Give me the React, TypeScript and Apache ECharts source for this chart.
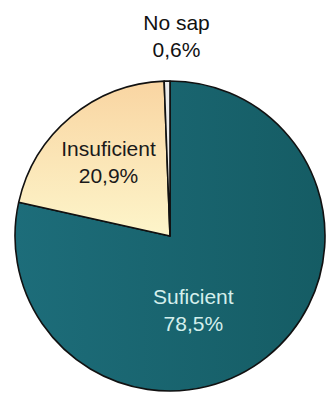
import React, { useEffect, useRef } from "react";
import * as echarts from "echarts";

const categories = ["Suficient", "Insuficient", "No sap"];
const values = [78.5, 20.9, 0.6];
const valueLabels = ["78,5%", "20,9%", "0,6%"];

export default function App() {
  const ref = useRef<HTMLDivElement>(null);
  useEffect(() => {
    if (!ref.current) return;
    const chart = echarts.init(ref.current, null, { renderer: "svg" });
    const fills: any[] = [
      new echarts.graphic.LinearGradient(0, 0, 1, 0, [
        { offset: 0, color: "#1d6d7a" },
        { offset: 1, color: "#155c64" },
      ]),
      new echarts.graphic.LinearGradient(0, 0, 0, 1, [
        { offset: 0, color: "#f9d5a2" },
        { offset: 1, color: "#fdf5ca" },
      ]),
      "#ececec",
    ];
    const labelStyles: any[] = [
      { color: "#d4efec", offset: [-27, 11] },
      { color: "#1a1a1a", offset: [-10, -12] },
      { color: "#111111", offset: [8, -120] },
    ];
    chart.setOption({
      animation: false,
      series: [
        {
          type: "pie",
          center: [170, 236],
          radius: [0, 155],
          startAngle: 90,
          clockwise: true,
          minAngle: 0,
          avoidLabelOverlap: false,
          itemStyle: { borderColor: "#111", borderWidth: 1.6 },
          label: {
            show: true,
            position: "inside",
            fontFamily: "Liberation Sans, Arial, sans-serif",
            fontSize: 21,
            lineHeight: 27,
            align: "center",
          },
          labelLine: { show: false },
          data: categories.map((name, i) => ({
            name,
            value: values[i],
            itemStyle: { color: fills[i] },
            label: {
              formatter: name + "\n" + valueLabels[i],
              color: labelStyles[i].color,
              offset: labelStyles[i].offset,
            },
          })),
        },
      ],
    });
    return () => chart.dispose();
  }, []);
  return (
    <div
      ref={ref}
      style={{ position: "fixed", left: 0, top: 0, width: 327, height: 394, background: "#fff" }}
    />
  );
}
